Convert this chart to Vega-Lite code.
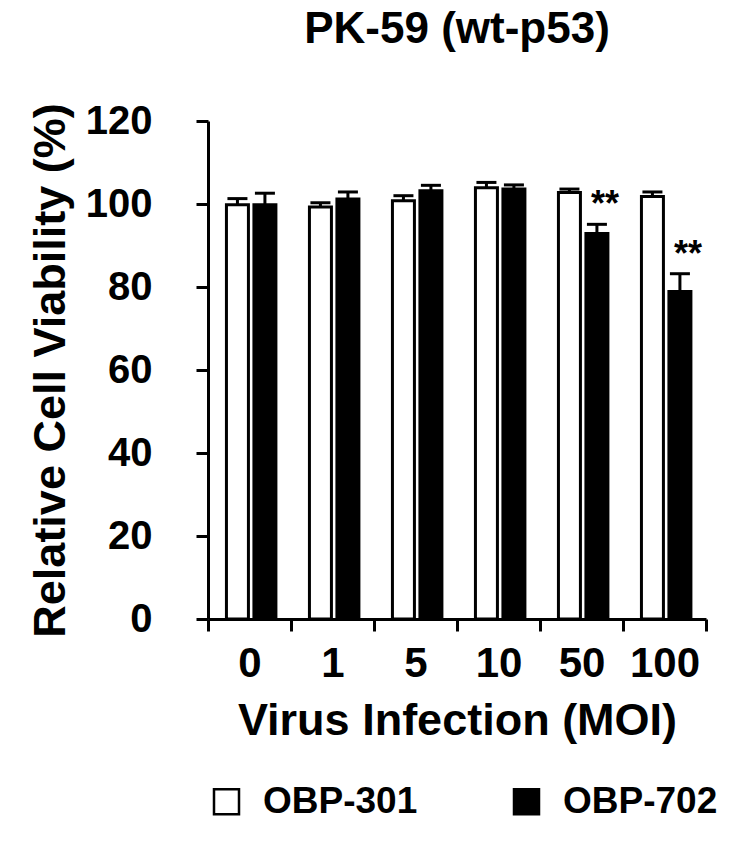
{
  "$schema": "https://vega.github.io/schema/vega-lite/v6.json",
  "width": 498,
  "height": 498,
  "autosize": "none",
  "padding": {"left": 208, "top": 121, "right": 43, "bottom": 224},
  "background": "white",
  "title": {
    "text": "PK-59 (wt-p53)",
    "fontSize": 44,
    "font": "Liberation Sans",
    "fontWeight": "bold",
    "color": "black",
    "anchor": "middle",
    "baseline": "alphabetic",
    "offset": 14
  },
  "data": {
    "values": [
      {"moi": "0", "virus": "OBP-301", "mean": 99.8, "upper": 101.3, "sig": ""},
      {"moi": "0", "virus": "OBP-702", "mean": 99.8, "upper": 102.6, "sig": ""},
      {"moi": "1", "virus": "OBP-301", "mean": 99.3, "upper": 100.3, "sig": ""},
      {"moi": "1", "virus": "OBP-702", "mean": 101.2, "upper": 102.9, "sig": ""},
      {"moi": "5", "virus": "OBP-301", "mean": 100.8, "upper": 102.0, "sig": ""},
      {"moi": "5", "virus": "OBP-702", "mean": 103.2, "upper": 104.5, "sig": ""},
      {"moi": "10", "virus": "OBP-301", "mean": 103.9, "upper": 105.2, "sig": ""},
      {"moi": "10", "virus": "OBP-702", "mean": 103.6, "upper": 104.6, "sig": ""},
      {"moi": "50", "virus": "OBP-301", "mean": 102.8, "upper": 103.6, "sig": ""},
      {"moi": "50", "virus": "OBP-702", "mean": 92.9, "upper": 95.1, "sig": "**"},
      {"moi": "100", "virus": "OBP-301", "mean": 101.8, "upper": 102.9, "sig": ""},
      {"moi": "100", "virus": "OBP-702", "mean": 78.9, "upper": 83.2, "sig": "**"}
    ]
  },
  "encoding": {
    "x": {
      "field": "moi",
      "type": "nominal",
      "sort": ["0", "1", "5", "10", "50", "100"],
      "scale": {"paddingInner": 0, "paddingOuter": 0},
      "axis": {
        "title": "Virus Infection (MOI)",
        "labelAngle": 0,
        "labelFontSize": 42,
        "labelFont": "Liberation Sans",
        "labelFontWeight": "bold",
        "labelColor": "black",
        "labelPadding": 12,
        "tickBand": "extent",
        "tickSize": 12,
        "tickWidth": 3,
        "tickColor": "black",
        "domainWidth": 3,
        "domainColor": "black",
        "titleFontSize": 45,
        "titleFont": "Liberation Sans",
        "titleFontWeight": "bold",
        "titleColor": "black",
        "titlePadding": 14
      }
    },
    "xOffset": {
      "field": "virus",
      "type": "nominal",
      "scale": {"paddingInner": 0.2, "paddingOuter": 0.61, "align": 0.55}
    }
  },
  "layer": [
    {
      "mark": {"type": "bar", "stroke": "black", "strokeWidth": 3},
      "encoding": {
        "y": {
          "field": "mean",
          "type": "quantitative",
          "scale": {"domain": [0, 120]},
          "axis": {
            "title": "Relative Cell Viability (%)",
            "values": [0, 20, 40, 60, 80, 100, 120],
            "grid": false,
            "labelFontSize": 40,
            "labelFont": "Liberation Sans",
            "labelFontWeight": "bold",
            "labelColor": "black",
            "labelPadding": 44,
            "tickSize": 12,
            "tickWidth": 3,
            "tickColor": "black",
            "domainWidth": 3,
            "domainColor": "black",
            "titleFontSize": 45,
            "titleFont": "Liberation Sans",
            "titleFontWeight": "bold",
            "titleColor": "black",
            "titlePadding": 12
          }
        },
        "fill": {
          "field": "virus",
          "type": "nominal",
          "scale": {"domain": ["OBP-301", "OBP-702"], "range": ["white", "black"]},
          "legend": {
            "title": null,
            "orient": "none",
            "direction": "horizontal",
            "legendX": 0,
            "legendY": 662,
            "symbolType": "square",
            "symbolSize": 625,
            "symbolStrokeColor": "black",
            "symbolStrokeWidth": 2.5,
            "labelFontSize": 37,
            "labelFont": "Liberation Sans",
            "labelFontWeight": "bold",
            "labelColor": "black",
            "labelOffset": 18,
            "columnPadding": 90,
            "padding": 0
          }
        }
      }
    },
    {
      "mark": {"type": "rule", "color": "black", "strokeWidth": 3},
      "encoding": {
        "y": {"field": "mean", "type": "quantitative"},
        "y2": {"field": "upper"}
      }
    },
    {
      "mark": {"type": "tick", "color": "black", "thickness": 3, "size": 20, "opacity": 1},
      "encoding": {
        "y": {"field": "upper", "type": "quantitative"}
      }
    },
    {
      "transform": [{"filter": "datum.sig != ''"}],
      "mark": {
        "type": "text",
        "font": "Liberation Sans",
        "fontWeight": "bold",
        "fontSize": 36,
        "baseline": "alphabetic",
        "align": "center",
        "dx": 8,
        "dy": -8,
        "color": "black"
      },
      "encoding": {
        "y": {"field": "upper", "type": "quantitative"},
        "text": {"field": "sig"}
      }
    }
  ],
  "config": {
    "view": {"stroke": null}
  }
}
